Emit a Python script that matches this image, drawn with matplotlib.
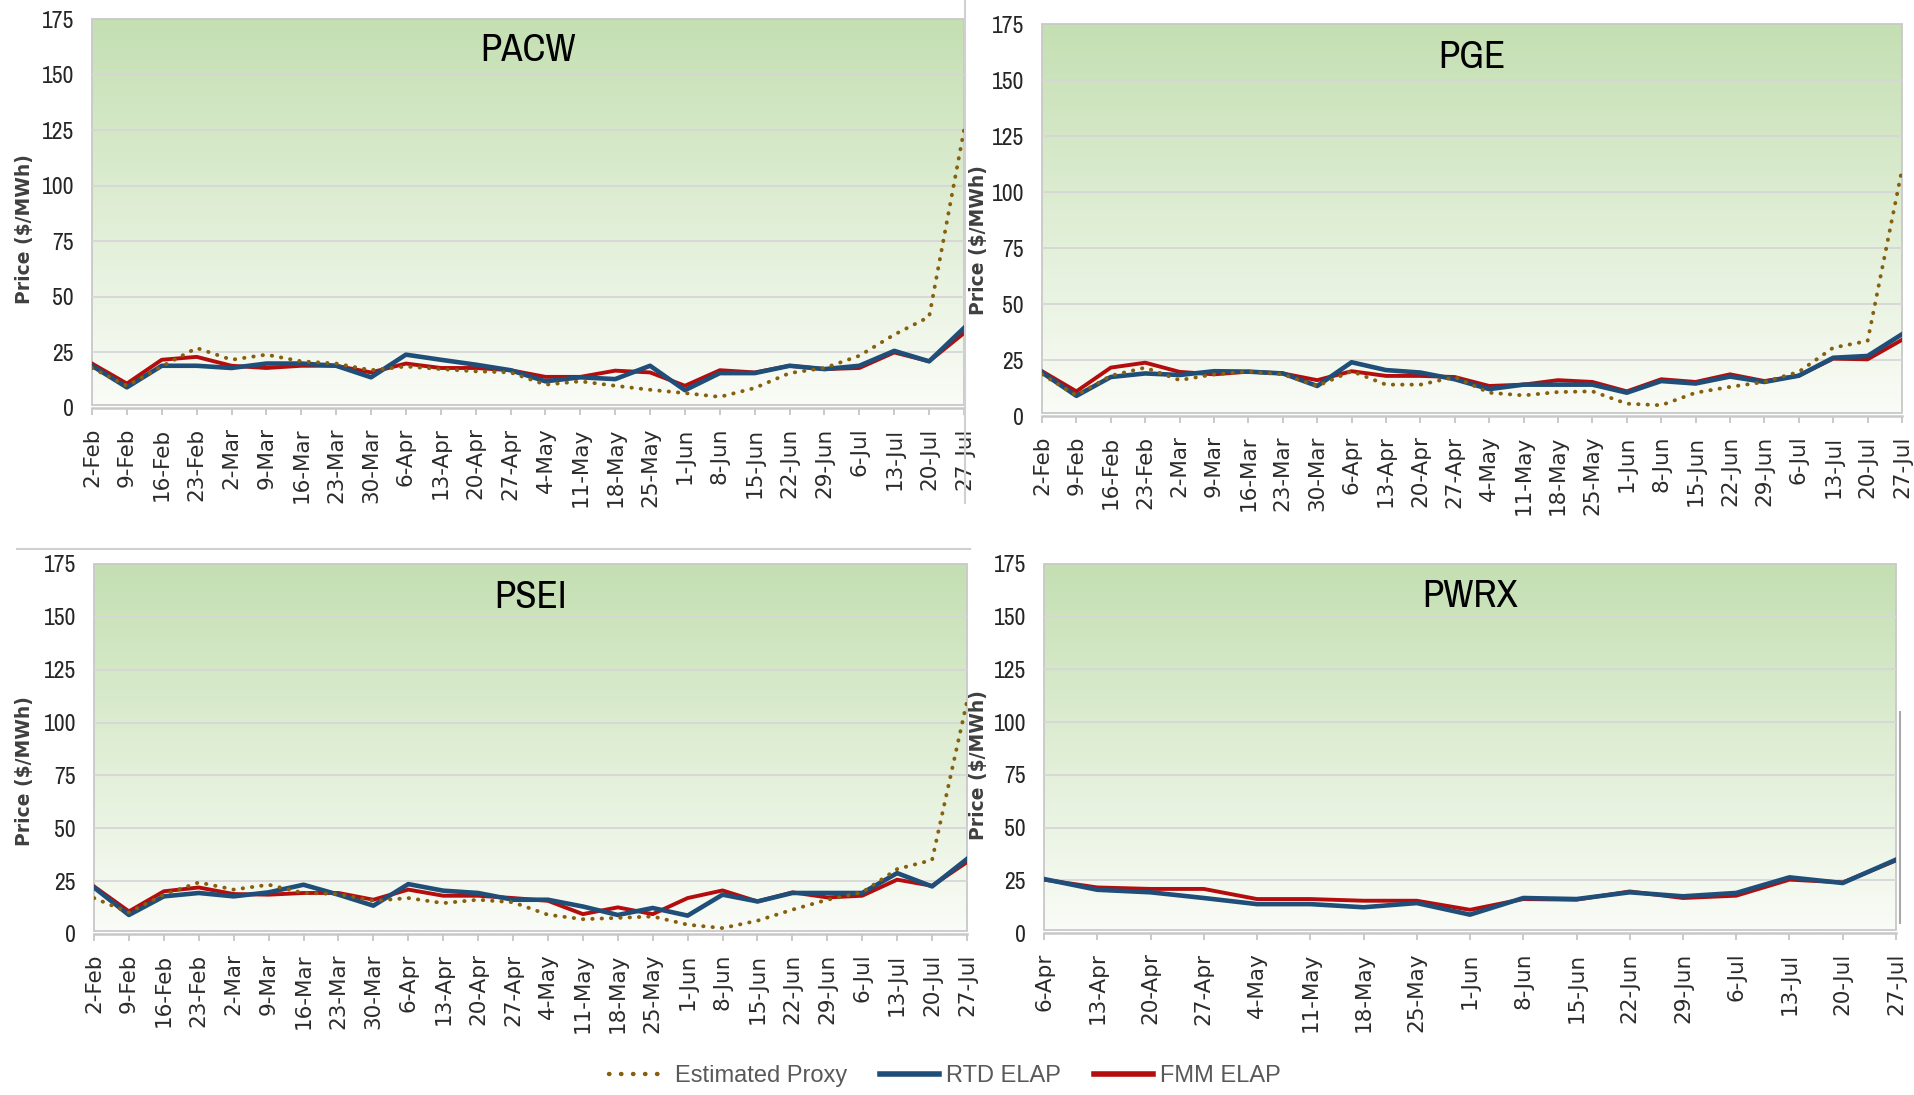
import numpy as np
import matplotlib
matplotlib.use('Agg')
import matplotlib.pyplot as plt
from matplotlib.patches import Rectangle
from matplotlib.lines import Line2D

# week labels
weeks_feb = ['2-Feb', '9-Feb', '16-Feb', '23-Feb', '2-Mar', '9-Mar', '16-Mar', '23-Mar',
             '30-Mar', '6-Apr', '13-Apr', '20-Apr', '27-Apr', '4-May', '11-May', '18-May',
             '25-May', '1-Jun', '8-Jun', '15-Jun', '22-Jun', '29-Jun', '6-Jul', '13-Jul',
             '20-Jul', '27-Jul']
weeks_apr = ['6-Apr', '13-Apr', '20-Apr', '27-Apr', '4-May', '11-May', '18-May', '25-May',
             '1-Jun', '8-Jun', '15-Jun', '22-Jun', '29-Jun', '6-Jul', '13-Jul', '20-Jul',
             '27-Jul']

# PACW
pacw_rtd = [19, 9.3, 19, 19, 18, 20, 20, 19, 13.8, 24, 21.7, 19.5, 17, 12, 13.8, 13, 19, 8,
            15.7, 15.7, 19, 17.5, 19, 25.7, 21, 36]
pacw_fmm = [20, 11, 21.7, 23, 19, 18, 19, 19, 16, 20, 18, 18, 17, 14, 14, 16.8, 16, 10, 17,
            16, 19, 17.5, 18, 25, 21, 33.7]
pacw_proxy = [18, 10, 18.7, 27, 21.7, 24, 21, 20, 17, 18.7, 17.5, 16.5, 16, 10.5, 12, 10,
              8.2, 6.7, 5, 9, 15.7, 18, 23.5, 33, 41, 125]

# PGE
pge_rtd = [19.4, 9, 17.4, 19, 18.3, 20, 19.8, 19, 13.4, 24, 20.5, 19.4, 16.4, 12, 14, 14, 14,
           10.4, 15.6, 14.5, 17.6, 15.2, 18, 26, 26.8, 36.5]
pge_fmm = [20, 11, 21.6, 23.8, 19.7, 18.6, 19.8, 19, 16, 20, 17.9, 17.9, 17.4, 13.4, 14, 16,
           15.2, 11, 16.4, 15.2, 18.6, 15.6, 18, 25.6, 25.3, 34]
pge_proxy = [18.6, 9.2, 18, 21.6, 16, 18.6, 19.8, 18.6, 13.4, 20, 14, 14, 17.4, 10.4, 9.2,
             10.7, 11, 5.5, 4.8, 10.4, 13, 15.2, 19.7, 30.5, 33.5, 110]

# PSEI
psei_rtd = [22, 9, 17.8, 19.4, 17.8, 19.7, 23.3, 18.6, 13.4, 23.6, 20.5, 19.4, 16.2, 16.2, 13,
            9, 12.3, 8.7, 18.6, 15.4, 19.4, 19.4, 19.4, 28.8, 22.5, 35.5]
psei_fmm = [22.5, 10.7, 20.2, 22, 18.9, 18.6, 19.4, 19.4, 16.2, 21, 18.1, 18.1, 17, 15.7, 9.4,
            12.6, 9.4, 17, 20.6, 15.4, 19.7, 17.3, 18.1, 25.7, 22.8, 34]
psei_proxy = [17, 10.2, 18.6, 24.4, 21, 23.3, 19.4, 18.9, 15.7, 17, 14.6, 16.2, 15, 9.1, 7,
              7.6, 8.3, 4.4, 2.8, 6.3, 11.5, 16.2, 19.7, 30.7, 35, 110]

# PWRX (no proxy)
pwrx_rtd = [25.6, 20.5, 19.3, 16.6, 13.7, 13.7, 12.2, 14.2, 8.7, 16.6, 16.1, 19.3, 17.4, 19,
            26.4, 23.7, 34.8]
pwrx_fmm = [25.3, 21.6, 20.9, 20.9, 16.1, 16.1, 15.3, 15.3, 11, 16.1, 15.8, 19.7, 16.6, 17.7,
            25.3, 24, 34.4]

yticks = [0, 25, 50, 75, 100, 125, 150, 175]

RTD_C = '#1f4e79'
FMM_C = '#b50d0d'
PROXY_C = '#86600f'
# condensed font for the excel style numbers and titles
NARROW = ['Liberation Sans Narrow', 'Archivo Narrow', 'Lato', 'DejaVu Sans']


def green_box(ax, n):
    #gradient plot area, fades from green at the top to almost white at the bottom
    top = np.array([196, 223, 178]) / 255.
    bot = np.array([250, 252, 247]) / 255.
    t = np.linspace(0, 1, 256)[:, None]
    img = bot + (top - bot) * t
    img = img[:, None, :].repeat(2, axis=1)
    ax.imshow(img, origin='lower', extent=[0, n - 1, 1.3, 175], aspect='auto', zorder=0,
              interpolation='bilinear')
    ax.add_patch(Rectangle((0, 1.3), n - 1, 175 - 1.3, fill=False, ec='#c8c8c8', lw=1.3,
                           zorder=1, clip_on=False))


def panel(ax, title, weeks, rtd, fmm, proxy=None, title_y=0.92, lab_x=-0.066, lab_y=0.45):
    n = len(weeks)
    x = np.arange(n)
    green_box(ax, n)
    for v in yticks[1:-1]:
        ax.axhline(v, color='#d6d6d6', lw=1.3, zorder=1)

    ax.plot(x, fmm, color=FMM_C, lw=2.8, zorder=3, solid_joinstyle='round')
    ax.plot(x, rtd, color=RTD_C, lw=3.3, zorder=4, solid_joinstyle='round')
    if proxy is not None:
        ax.plot(x, proxy, color=PROXY_C, lw=2.8, ls=(0, (0.1, 2.3)), dash_capstyle='round',
                zorder=5)

    ax.set_xlim(0, n - 1)
    ax.set_ylim(0, 175)
    ax.set_yticks(yticks)
    ax.set_xticks(x)
    ax.set_xticklabels(weeks, rotation=90, fontsize=15.5, color='#2b2b2b')
    ax.set_yticklabels([str(v) for v in yticks], fontsize=17, color='#262626',
                       family=NARROW)
    ax.tick_params(axis='y', length=0, pad=13)
    ax.tick_params(axis='x', direction='out', length=5, width=1.2, color='#c0c0c0', pad=9)
    for s in ['left', 'right', 'top']:
        ax.spines[s].set_visible(False)
    ax.spines['bottom'].set_color('#c8c8c8')
    ax.spines['bottom'].set_linewidth(1.8)

    ax.text(0.5, title_y, title, transform=ax.transAxes, ha='center', va='center',
            fontsize=28, family=NARROW, color='black', zorder=6)
    ax.set_ylabel('Price ($/MWh)', fontsize=13.5, fontweight='bold', color='#3f3f3f')
    ax.yaxis.set_label_coords(lab_x, lab_y)


fig = plt.figure(figsize=(19.15, 10.95), dpi=100)

ax1 = fig.add_axes([92 / 1915, 1 - 408 / 1095, 872 / 1915, 389 / 1095])
ax2 = fig.add_axes([1042 / 1915, 1 - 416 / 1095, 860 / 1915, 392 / 1095])
ax3 = fig.add_axes([94 / 1915, 1 - 934 / 1095, 873 / 1915, 370 / 1095])
ax4 = fig.add_axes([1044 / 1915, 1 - 933 / 1095, 852 / 1915, 369 / 1095])

panel(ax1, 'PACW', weeks_feb, pacw_rtd, pacw_fmm, pacw_proxy, title_y=0.92,
      lab_x=-0.066, lab_y=0.46)
panel(ax2, 'PGE', weeks_feb, pge_rtd, pge_fmm, pge_proxy, title_y=0.915,
      lab_x=-0.063, lab_y=0.45)
panel(ax3, 'PSEI', weeks_feb, psei_rtd, psei_fmm, psei_proxy, title_y=0.91,
      lab_x=-0.069, lab_y=0.44)
panel(ax4, 'PWRX', weeks_apr, pwrx_rtd, pwrx_fmm, title_y=0.912,
      lab_x=-0.066, lab_y=0.455)

#separator lines left over from the pasted charts
fig.add_artist(Line2D([965 / 1915, 965 / 1915], [1, 1 - 503 / 1095], color='#d0d0d0', lw=1.5))
fig.add_artist(Line2D([17 / 1915, 970 / 1915], [1 - 549 / 1095, 1 - 549 / 1095],
                      color='#d0d0d0', lw=1.5))
fig.add_artist(Line2D([1900 / 1915, 1900 / 1915], [1 - 712 / 1095, 1 - 923 / 1095],
                      color='#a8a8a8', lw=1.5))

handles = [Line2D([], [], color=PROXY_C, lw=3.2, ls=(0, (0.1, 2.6)), dash_capstyle='round'),
           Line2D([], [], color=RTD_C, lw=4),
           Line2D([], [], color=FMM_C, lw=4)]
leg = fig.legend(handles, ['Estimated Proxy', 'RTD ELAP', 'FMM ELAP'], loc='center',
                 bbox_to_anchor=(0.4935, 0.0175), ncol=3, frameon=False,
                 handlelength=2.5, handletextpad=0.3, columnspacing=1.4,
                 prop={'family': ['Liberation Sans', 'DejaVu Sans'], 'size': 17})
for t in leg.get_texts():
    t.set_color('#595959')

fig.savefig('out.png', dpi=100)
